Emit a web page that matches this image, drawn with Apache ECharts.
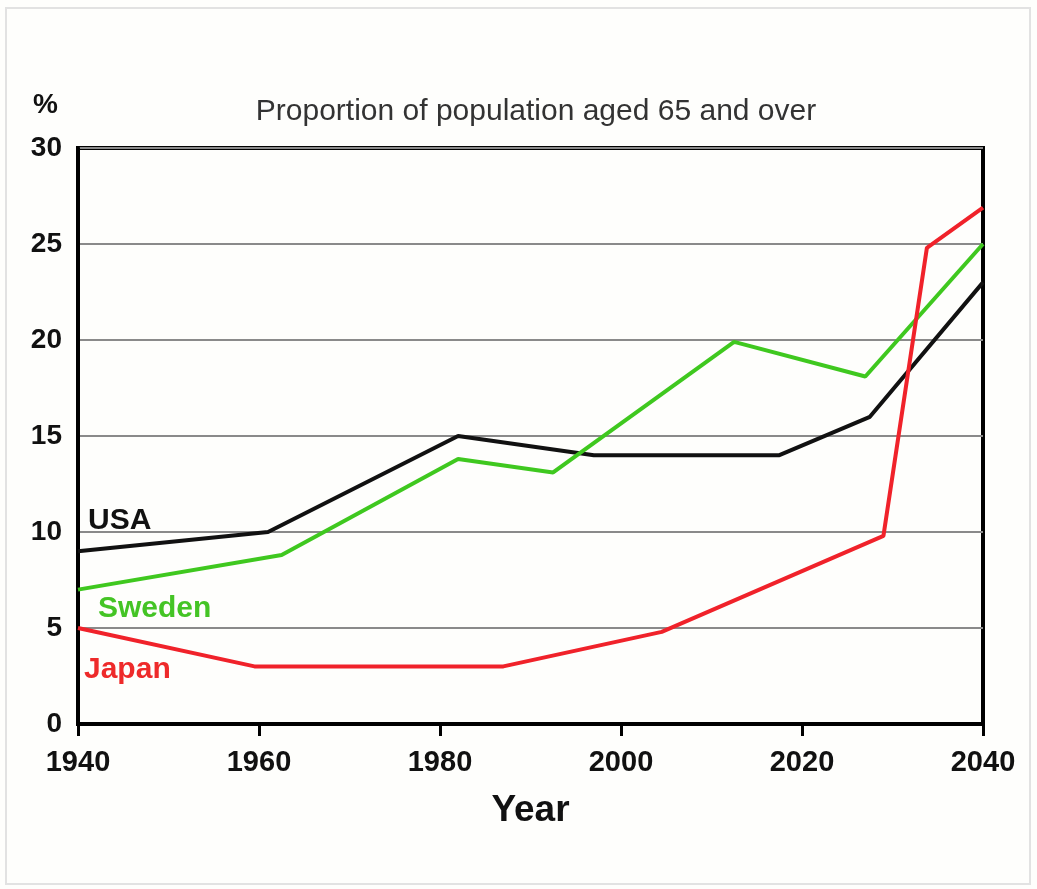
<!DOCTYPE html>
<html>
<head>
<meta charset="utf-8">
<script src="https://cdn.jsdelivr.net/npm/echarts@6/dist/echarts.min.js"></script>
<style>
html,body{margin:0;padding:0;background:#fefefc;}
#c{width:1037px;height:889px;}
</style>
</head>
<body>
<div id="c"></div>
<script>
const xTicks = [1940, 1960, 1980, 2000, 2020, 2040];
const yTicks = [0, 5, 10, 15, 20, 25, 30];

const usaYears = [1940, 1961, 1982, 1997, 2017.5, 2027.5, 2040];
const usaValues = [9, 10, 15, 14, 14, 16, 23];

const swedenYears = [1940, 1962.5, 1982, 1992.5, 2012.5, 2027, 2040];
const swedenValues = [7, 8.8, 13.8, 13.1, 19.9, 18.1, 25];

const japanYears = [1940, 1959.5, 1987, 2004.5, 2029, 2033.8, 2040];
const japanValues = [5, 3, 3, 4.8, 9.8, 24.8, 26.9];

const pairs = (xs, ys) => xs.map((x, i) => [x, ys[i]]);

const chart = echarts.init(document.getElementById('c'));
const font = 'Liberation Sans, Arial, sans-serif';
chart.setOption({
  backgroundColor: '#fefefc',
  animation: false,
  title: {
    text: 'Proportion of population aged 65 and over',
    left: 531, top: 92, textAlign: 'center',
    textStyle: {fontFamily: font, fontWeight: 'normal', fontSize: 30, color: '#333'}
  },
  grid: {left: 78, right: 54, top: 148, bottom: 165, show: true, borderColor: '#000', borderWidth: 4, backgroundColor: 'transparent'},
  xAxis: {
    type: 'value', min: xTicks[0], max: xTicks[xTicks.length - 1], interval: 20,
    name: 'Year', nameLocation: 'middle', nameGap: 68,
    nameTextStyle: {fontFamily: font, fontWeight: 'bold', fontSize: 37, color: '#111'},
    axisLine: {lineStyle: {color: '#000', width: 4}},
    axisTick: {show: true, inside: false, length: 12, lineStyle: {color: '#000', width: 3}},
    axisLabel: {margin: 24, fontFamily: font, fontWeight: 'bold', fontSize: 29, color: '#111', formatter: v => String(v)},
    splitLine: {show: false}
  },
  yAxis: {
    type: 'value', min: yTicks[0], max: yTicks[yTicks.length - 1], interval: 5,
    axisLine: {show: true, lineStyle: {color: '#000', width: 4}},
    axisTick: {show: false},
    axisLabel: {margin: 16, fontFamily: font, fontWeight: 'bold', fontSize: 28, color: '#111'},
    splitLine: {show: true, lineStyle: {color: '#8a8a8a', width: 2}}
  },
  graphic: [
    {type: 'rect', shape: {x: 6, y: 8, width: 1024, height: 876}, style: {fill: 'none', stroke: '#e2e2e2', lineWidth: 2}, silent: true, z: -1},
    {type: 'text', left: 33, top: 91, style: {text: '%', fontFamily: font, fontWeight: 'bold', fontSize: 28, fill: '#111'}},
    {type: 'text', left: 88, top: 506, style: {text: 'USA', fontFamily: font, fontWeight: 'bold', fontSize: 30, fill: '#111'}},
    {type: 'text', left: 98, top: 594, style: {text: 'Sweden', fontFamily: font, fontWeight: 'bold', fontSize: 30, fill: '#44c425'}},
    {type: 'text', left: 84, top: 655, style: {text: 'Japan', fontFamily: font, fontWeight: 'bold', fontSize: 30, fill: '#ee2a2a'}}
  ],
  series: [
    {name: 'USA', type: 'line', data: pairs(usaYears, usaValues), symbol: 'none', lineStyle: {color: '#111', width: 4}, z: 3},
    {name: 'Sweden', type: 'line', data: pairs(swedenYears, swedenValues), symbol: 'none', lineStyle: {color: '#3fc81f', width: 4}, z: 4},
    {name: 'Japan', type: 'line', data: pairs(japanYears, japanValues), symbol: 'none', lineStyle: {color: '#f0222a', width: 4}, z: 5}
  ]
});
</script>
</body>
</html>
